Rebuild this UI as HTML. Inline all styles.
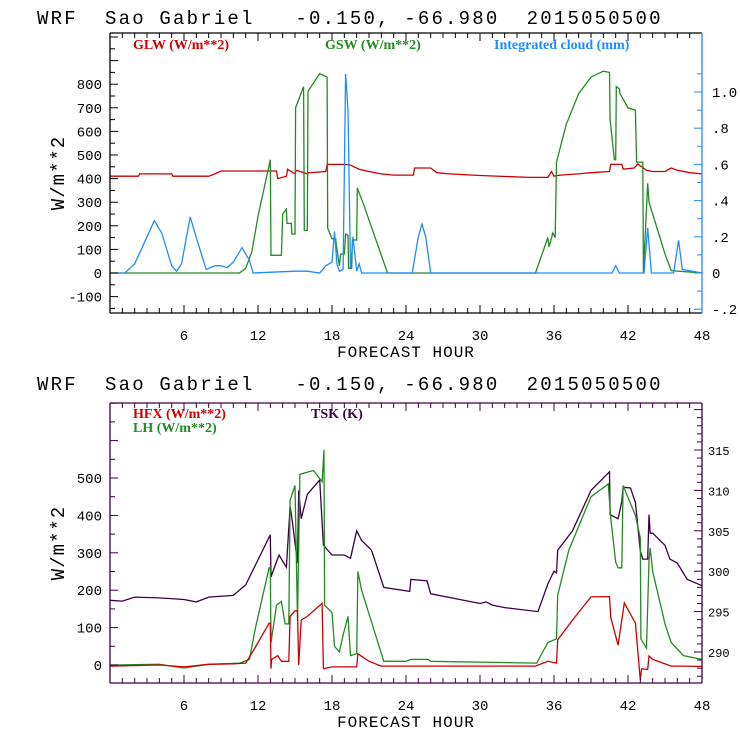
<!DOCTYPE html>
<html><head><meta charset="utf-8"><style>
html,body{margin:0;padding:0;background:#fff;}
svg{display:block;}
text{font-family:"Liberation Mono",monospace;}
.ttl{font-size:19px;letter-spacing:2.2px;fill:#000;white-space:pre;}
.tk{font-size:14px;fill:#000;}
.lg{font-family:"Liberation Serif",serif;font-size:14px;font-weight:bold;}
</style></head><body>
<svg id="c" width="740" height="740" viewBox="0 0 740 740"></svg>
<script>
// ---- data (hours, values) ----
const glwH=[0,2.3,2.4,5,5.1,8,8.5,9,13.5,13.6,14.3,14.4,15,15.1,16,16.1,17.5,17.6,19,19.5,20.2,21,22,23,24.6,24.7,26,26.5,27.5,30,34,35.5,35.8,36,36.5,38,39,40.5,40.6,41.5,41.6,42.5,42.8,43.5,44,45,45.5,46,47,48];
const glwV=[410,410,420,420,410,410,420,432,432,400,410,440,420,435,420,425,430,460,460,457,440,430,420,415,415,445,445,425,420,413,405,405,430,410,415,420,425,430,460,460,440,445,462,435,430,430,445,435,425,420];
const gswH=[0,10.5,11,11.5,12,13,13.05,13.9,14,14.3,14.35,14.7,14.75,15,15.05,15.7,15.75,16,16.05,17,17.6,17.65,18,18.3,18.35,18.6,18.7,19,19.1,19.3,19.35,19.6,19.65,20,20.05,20.5,22.5,34.5,35.5,35.6,35.9,36.1,36.2,37,38,39,40,40.5,40.55,40.9,41,41.05,41.3,41.35,42,42.6,42.7,43.2,43.25,43.6,43.7,44,45,45.5,48];
const gswV=[0,0,20,90,240,480,75,75,250,270,210,210,165,165,700,790,180,180,770,845,830,190,145,145,120,30,80,80,165,160,20,20,140,140,360,300,0,0,150,110,170,150,470,630,760,830,855,850,650,480,480,790,780,760,700,690,470,470,0,380,300,250,80,10,0];
const cldH=[0,1.2,2,3,3.6,4.2,5,5.4,5.8,6.5,7.2,7.8,8.5,9,9.5,10,10.7,11.3,11.6,15,16,17,17.5,18,18.2,18.4,18.6,18.9,19.1,19.3,19.5,19.7,20,20.2,20.4,21,24.5,25,25.3,25.6,26,40.7,41,41.3,43.3,43.6,43.9,45.7,46.1,46.4,48];
const cldV=[0,0,0.05,0.2,0.29,0.22,0.04,0.01,0.05,0.31,0.15,0.02,0.04,0.04,0.03,0.06,0.14,0.07,0,0.01,0.01,0,0.04,0.06,0.23,0.05,0.01,0.02,1.1,0.9,0.02,0.2,0.01,0.05,0,0,0,0.2,0.27,0.2,0,0,0.04,0,0,0.25,0,0,0.18,0.02,0];
const hfxH=[0,4,6,8,10,11,11.8,12.9,13,13.05,13.1,13.6,13.9,14.5,14.6,15,15.2,15.3,15.5,16,17.2,17.3,18,20,20.1,21,22,24,26,34.5,35.5,36.2,36.3,37.5,39,40.5,40.6,41.2,41.5,41.7,42.6,43,43.1,43.6,43.7,44,45.5,46.5,48];
const hfxV=[-3,0,-5,2,3,5,48,112,112,-10,15,25,10,10,130,145,145,0,120,130,165,-10,-5,-5,30,10,-3,-3,-3,-3,10,5,67,120,182,183,128,53,120,166,112,-40,-10,-12,24,15,-3,-3,-4];
const lhH=[0,4,6,8,10.5,11.3,11.8,12.9,13,13.05,13.5,13.9,14.2,14.5,14.6,15,15.2,15.4,16.5,17.2,17.35,17.4,18,18.2,18.6,18.9,19.3,19.5,20,20.1,20.4,22.2,24,24.4,25.8,26,34.6,35.5,36.2,36.3,37.2,39,40.4,40.6,41,41.2,41.5,41.6,42.6,43,43.05,43.5,43.7,43.8,44,45,45.5,46.5,48];
const lhV=[0,2,-8,2,5,15,100,260,260,60,160,170,110,110,440,480,120,510,520,490,575,160,140,50,35,80,130,25,30,250,200,10,10,15,15,10,5,60,70,187,307,450,484,393,275,260,260,480,400,340,70,45,280,313,250,110,60,25,15];
const tskH=[0,1,2,4,6,7,8,10,11,12,13,13.05,13.7,14.3,14.6,14.8,15.2,15.3,15.5,16,17,17.3,18,19,19.5,20,20.4,21.2,22.2,24.3,24.4,25.7,26,30,30.5,31,32,34.7,35.5,36,36.2,36.3,37.5,39,40.5,40.55,41.2,41.5,41.6,42.2,42.6,43,43.2,43.6,43.7,43.8,44,45,45.4,46,46.8,48];
const tskV=[296.4,296.3,296.8,296.7,296.5,296.2,296.8,297,298.3,301.4,304.5,299.3,302,300.5,308,306,301,310,306.5,309.5,311.3,303.2,302,302,301.6,305,303.8,302.6,298,297.5,299,298.8,297.2,296,296.2,295.8,295.5,295,298.4,300,299.8,302.6,305,310,312.3,307,306.5,308.6,310.4,310.3,308.5,302.5,301.5,301.5,307,304.7,304.7,303.2,301.5,301,299,298.2];
const xTicks=[6,12,18,24,30,36,42,48];
const topLeftTicks=[-100,0,100,200,300,400,500,600,700,800];
const topRightTicks=[-0.2,0,0.2,0.4,0.6,0.8,1.0];
const topRightLabels=["-.2","0",".2",".4",".6",".8","1.0"];
const botLeftTicks=[0,100,200,300,400,500];
const botRightTicks=[290,295,300,305,310,315];

const svg=document.getElementById('c');
const NS='http://www.w3.org/2000/svg';
function el(tag,attrs,parent){const e=document.createElementNS(NS,tag);for(const k in attrs)e.setAttribute(k,attrs[k]);(parent||svg).appendChild(e);return e;}
function txt(s,x,y,cls,anchor,fill){const t=el('text',{x:x,y:y,class:cls,'text-anchor':anchor||'start'});if(fill)t.setAttribute('fill',fill);t.textContent=s;return t;}

const X0=110,X1=702;
const xs=h=>X0+(X1-X0)*h/48;

function panel(cfg){
  const g=el('g',{});
  
  
  const {top,bot}=cfg;
  const t=txt('WRF  Sao Gabriel   -0.150, -66.980  2015050500',37,cfg.titleY,'ttl');
  t.setAttribute('xml:space','preserve');
  
  
  g.appendChild(t);
  cfg.series.forEach(s=>{
    const pts=s.h.map((h,i)=>xs(h).toFixed(1)+','+s.y(s.v[i]).toFixed(1)).join(' ');
    const p=el('polyline',{points:pts,fill:'none',stroke:s.color,'stroke-width':1.3,'stroke-linejoin':'miter'},g);
    
    
  });
  el('line',{x1:X0,y1:top,x2:X1,y2:top,stroke:cfg.frame,'stroke-width':1.3},g);
  el('line',{x1:X0,y1:bot,x2:X1,y2:bot,stroke:cfg.frame,'stroke-width':1.3},g);
  el('line',{x1:X0,y1:top,x2:X0,y2:bot,stroke:cfg.frame,'stroke-width':1.3},g);
  el('line',{x1:X1,y1:top,x2:X1,y2:bot,stroke:cfg.rframe,'stroke-width':1.3},g);
  for(let h=1;h<48;h++){const L=h%6===0?8:5;const x=xs(h);
    el('line',{x1:x,y1:bot,x2:x,y2:bot-L,stroke:cfg.frame},g);
    el('line',{x1:x,y1:top,x2:x,y2:top+L,stroke:cfg.frame},g);}
  xTicks.forEach(h=>{const l=txt(String(h),xs(h),bot+27,'tk','middle');
    
    g.appendChild(l);});
  const xt=txt('FORECAST HOUR',406,bot+44,'tk','middle');xt.style.fontSize='16px';xt.style.letterSpacing='1px';
  
  g.appendChild(xt);
  for(let v=cfg.lmin;v<=cfg.lmax;v+=cfg.lminor){const y=cfg.ly(v);if(y<top||y>bot)continue;
    const L=(Math.round(v/cfg.lminor)%2===0)?8:5;
    el('line',{x1:X0,y1:y,x2:X0+L,y2:y,stroke:cfg.frame},g);}
  cfg.lticks.forEach(v=>{const l=txt(String(v),X0-8,cfg.ly(v)+5,'tk','end');
    
    g.appendChild(l);});
  for(let k=cfg.rmin;k<=cfg.rmax;k++){const v=k*cfg.rminor;const y=cfg.ry(v);if(y<top||y>bot)continue;
    const L=(k%cfg.rmajEvery===0)?8:5;
    el('line',{x1:X1,y1:y,x2:X1-L,y2:y,stroke:cfg.rframe},g);}
  cfg.rticks.forEach((v,i)=>{const l=txt(cfg.rlabels[i],X1+(cfg.rsmall?6:10),cfg.ry(v)+5,'tk','start');
    if(cfg.rsmall)l.style.fontSize='12px';
    
    g.appendChild(l);});
  const yt=el('text',{x:0,y:0,class:'tk',transform:`translate(${cfg.ytx},${(top+bot)/2}) rotate(-90)`,'text-anchor':'middle'},g);
  yt.style.fontSize='19px';yt.style.letterSpacing='1px';yt.textContent='W/m**2';
  
  
  cfg.legend.forEach(L=>{const l=txt(L[0],L[1],L[2],'lg','start',L[3]);
    
    g.appendChild(l);});
}

const tly=v=>273-v*0.236;
const tRy=v=>273-v*181;
panel({name:'radiation-panel',titleY:24,top:33,bot:313,frame:'#000',rframe:'#1e8cff',
  ly:tly,ry:tRy,lmin:-150,lmax:1000,lminor:50,lticks:topLeftTicks,
  rmin:-2,rmax:11,rminor:0.1,rmajEvery:2,rticks:topRightTicks,rlabels:topRightLabels,rsmall:false,ytx:64,
  legend:[['GLW (W/m**2)',133,49,'#cc0000'],['GSW (W/m**2)',325,49,'#228b22'],['Integrated cloud (mm)',494,49,'#1e8cff']],
  series:[
    {name:'glw-line',h:glwH,v:glwV,y:tly,color:'#cc0000'},
    {name:'gsw-line',h:gswH,v:gswV,y:tly,color:'#228b22'},
    {name:'cloud-line',h:cldH,v:cldV,y:tRy,color:'#1e8cff'}]});

const bly=v=>665-v*0.374;
const bRy=v=>652-(v-290)*8.08;
panel({name:'flux-panel',titleY:390,top:403,bot:683,frame:'#3c0046',rframe:'#3c0046',
  ly:bly,ry:bRy,lmin:-50,lmax:700,lminor:50,lticks:botLeftTicks,
  rmin:280,rmax:330,rminor:1,rmajEvery:5,rticks:botRightTicks,rlabels:botRightTicks.map(String),rsmall:true,ytx:64,
  legend:[['HFX (W/m**2)',133,418,'#cc0000'],['LH  (W/m**2)',133,432,'#228b22'],['TSK (K)',311,418,'#3c0046']],
  series:[
    {name:'tsk-line',h:tskH,v:tskV,y:bRy,color:'#3c0046'},
    {name:'lh-line',h:lhH,v:lhV,y:bly,color:'#228b22'},
    {name:'hfx-line',h:hfxH,v:hfxV,y:bly,color:'#cc0000'}]});
</script>
</body></html>
